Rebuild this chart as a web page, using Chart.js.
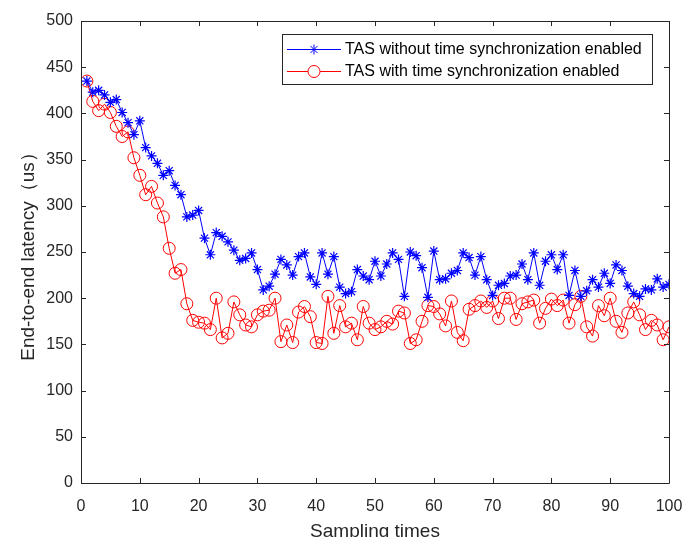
<!DOCTYPE html>
<html>
<head>
<meta charset="utf-8">
<script src="https://cdn.jsdelivr.net/npm/chart.js@4.4.1/dist/chart.umd.min.js"></script>
<style>
  html, body { margin: 0; padding: 0; background: #fff; }
  #wrap { width: 684px; height: 537px; position: relative; }
</style>
</head>
<body>
<div id="wrap"><canvas id="myChart" width="684" height="537"></canvas></div>
<script>
// Dados
const samples = [1,2,3,4,5,6,7,8,9,10,11,12,13,14,15,16,17,18,19,20,
  21,22,23,24,25,26,27,28,29,30,31,32,33,34,35,36,37,38,39,40,
  41,42,43,44,45,46,47,48,49,50,51,52,53,54,55,56,57,58,59,60,
  61,62,63,64,65,66,67,68,69,70,71,72,73,74,75,76,77,78,79,80,
  81,82,83,84,85,86,87,88,89,90,91,92,93,94,95,96,97,98,99,100];

const withoutSync = [435,423,425,420,412,415,401,390,377,392,
  363,354,346,333,338,322,312,288,290,295,
  265,247,271,267,261,252,241,243,249,231,
  209,213,226,242,236,225,245,249,223,215,
  249,226,245,212,205,207,231,224,220,240,
  224,237,249,242,202,250,246,233,201,251,
  220,221,227,230,249,244,225,245,220,203,
  214,216,224,225,237,220,249,214,240,247,
  231,247,203,230,202,208,220,212,227,216,
  236,230,213,205,202,210,209,221,212,215];

const withSync = [435,413,403,410,401,386,375,380,352,333,
  312,321,303,288,254,227,231,194,176,174,
  173,166,200,157,162,196,182,171,169,182,
  186,187,200,153,171,152,185,191,180,152,
  151,202,162,192,169,173,155,191,173,166,
  169,175,172,186,184,151,155,175,192,191,
  183,170,197,163,154,188,192,197,190,197,
  178,200,200,177,194,196,198,173,189,199,
  192,198,173,193,202,169,159,192,181,200,
  175,163,184,196,182,166,176,171,155,169];

const xTicks = [0,10,20,30,40,50,60,70,80,90,100];
const yTicks = [0,50,100,150,200,250,300,350,400,450,500];
const seriesNames = ['TAS without time synchronization enabled', 'TAS with time synchronization enabled'];

const axisColor = '#262626';
const fontFamily = "'Liberation Sans', Arial, sans-serif";

function toPoints(values) {
    return samples.map((s, i) => ({ x: s, y: values[i] }));
}

// Caixa, marcas internas e legenda no estilo MATLAB
const boxPlugin = {
    id: 'boxPlugin',
    afterDraw(chart) {
        const ctx = chart.ctx;
        const a = chart.chartArea;
        const xs = chart.scales.x;
        const ys = chart.scales.y;
        ctx.save();
        ctx.strokeStyle = axisColor;
        ctx.lineWidth = 1;
        ctx.beginPath();
        ctx.rect(Math.round(a.left) + 0.5, Math.round(a.top) + 0.5,
                 Math.round(a.right - a.left), Math.round(a.bottom - a.top));
        ctx.stroke();
        const len = 5;
        ctx.beginPath();
        xTicks.forEach(v => {
            const px = Math.round(xs.getPixelForValue(v)) + 0.5;
            ctx.moveTo(px, a.bottom); ctx.lineTo(px, a.bottom - len);
            ctx.moveTo(px, a.top); ctx.lineTo(px, a.top + len);
        });
        yTicks.forEach(v => {
            const py = Math.round(ys.getPixelForValue(v)) + 0.5;
            ctx.moveTo(a.left, py); ctx.lineTo(a.left + len, py);
            ctx.moveTo(a.right, py); ctx.lineTo(a.right - len, py);
        });
        ctx.stroke();

        // legenda
        const lx = 282, ly = 34, lw = 370, lh = 50;
        ctx.fillStyle = '#fff';
        ctx.fillRect(lx, ly, lw, lh);
        ctx.strokeStyle = axisColor;
        ctx.strokeRect(lx + 0.5, ly + 0.5, lw, lh);
        const rows = [
            { y: 49, color: '#0000ff', marker: 'star' },
            { y: 71, color: '#ff0000', marker: 'circle' }
        ];
        ctx.font = '16px ' + fontFamily;
        ctx.textBaseline = 'middle';
        ctx.textAlign = 'left';
        rows.forEach((r, i) => {
            ctx.strokeStyle = r.color;
            ctx.lineWidth = 1;
            ctx.beginPath();
            ctx.moveTo(287, r.y + 0.5); ctx.lineTo(341, r.y + 0.5);
            ctx.stroke();
            ctx.fillStyle = 'rgba(255,255,255,1)';
            Chart.helpers.drawPoint(ctx, {
                pointStyle: r.marker, radius: r.marker === 'star' ? 5 : 6, borderWidth: 1
            }, 314, r.y + 0.5);
            ctx.fillStyle = '#000';
            ctx.fillText(seriesNames[i], 345, r.y + 1);
        });
        ctx.restore();
    }
};

const ctx = document.getElementById('myChart').getContext('2d');
const myChart = new Chart(ctx, {
    type: 'line',
    data: {
        datasets: [{
            label: seriesNames[0],
            data: toPoints(withoutSync),
            borderColor: '#0000ff',
            backgroundColor: 'rgba(0,0,0,0)',
            borderWidth: 1,
            pointStyle: 'star',
            pointRadius: 5,
            pointBorderColor: '#0000ff',
            pointBorderWidth: 1.2,
            tension: 0
        }, {
            label: seriesNames[1],
            data: toPoints(withSync),
            borderColor: '#ff0000',
            backgroundColor: 'rgba(0,0,0,0)',
            borderWidth: 1,
            pointStyle: 'circle',
            pointRadius: 6,
            pointBorderColor: '#ff0000',
            pointBackgroundColor: 'rgba(0,0,0,0)',
            pointBorderWidth: 1,
            tension: 0
        }]
    },
    options: {
        responsive: false,
        animation: false,
        layout: { padding: { left: 17, right: 15, top: 21, bottom: 0 } },
        plugins: {
            legend: { display: false },
            tooltip: { enabled: false }
        },
        scales: {
            x: {
                type: 'linear',
                min: 0,
                max: 100,
                afterBuildTicks: s => { s.ticks = xTicks.map(v => ({ value: v })); },
                afterFit: s => { s.height = 54; s.paddingLeft = 0; s.paddingRight = 15; },
                grid: { display: false, drawTicks: false },
                border: { display: false },
                ticks: { color: axisColor, font: { family: fontFamily, size: 16 }, padding: 14, maxRotation: 0 },
                title: {
                    display: true,
                    text: 'Sampling times',
                    color: axisColor,
                    font: { family: fontFamily, size: 19 },
                    padding: { top: 0, bottom: -6 }
                }
            },
            y: {
                min: 0,
                max: 500,
                afterBuildTicks: s => { s.ticks = yTicks.map(v => ({ value: v })); },
                afterFit: s => { s.width = 64; },
                grid: { display: false, drawTicks: false },
                border: { display: false },
                ticks: { color: axisColor, font: { family: fontFamily, size: 16 }, padding: 8 },
                title: {
                    display: true,
                    text: 'End-to-end latency（us）',
                    color: axisColor,
                    font: { family: fontFamily, size: 19 },
                    padding: { top: 0, bottom: 0 }
                }
            }
        }
    },
    plugins: [boxPlugin]
});
</script>
</body>
</html>
